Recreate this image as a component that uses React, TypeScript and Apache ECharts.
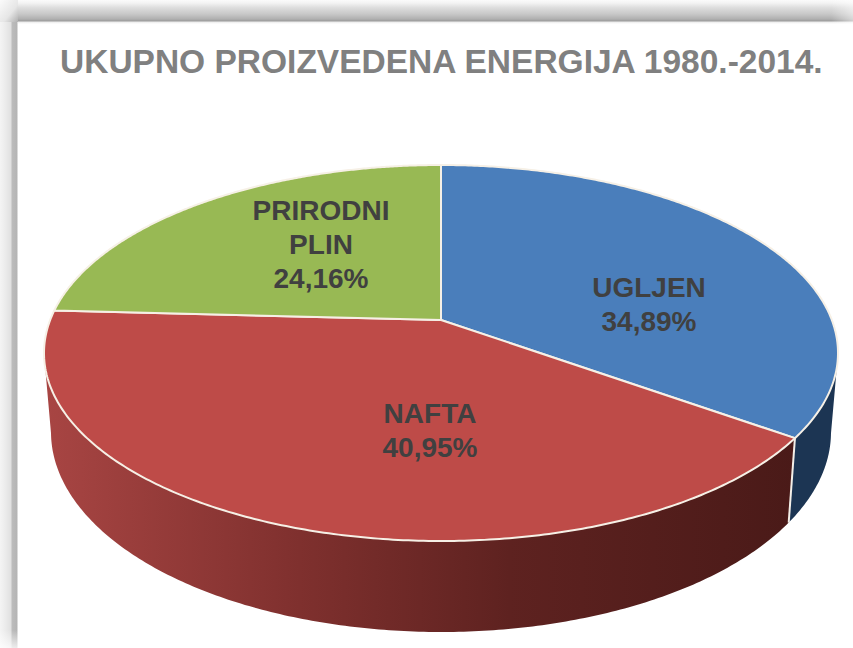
import React, { useEffect, useRef } from "react";
import * as echarts from "echarts";

const titleText = "UKUPNO PROIZVEDENA ENERGIJA 1980.-2014.";
const categories = ["UGLJEN", "NAFTA", "PRIRODNI\nPLIN"];
const shares = [34.89, 40.95, 24.16];

const topColors = ["#4a7ebb", "#be4b48", "#98b954"];
const sideFills = [
  ["#1c3553", "#1c3553"],
  ["#a84543", "#4a1a18"],
  ["#5f7530", "#5f7530"],
];

const W = 853;
const H = 648;
const TOP = { cx: 441, cy: 353, rx: 397, ry: 188 };
const BOTTOM = { cx: 441, cy: 432, rx: 390, ry: 200 };
const TILT = 0.1755; // apex offset caused by the perspective of the 3D pie
const LABEL_POS = [
  [649, 304.5],
  [430, 430],
  [321, 244.5],
];

// circle angle (clockwise from 12 o'clock) to normalised position on the projected rim
function rim(a: number) {
  const x = Math.sin(a);
  const y = Math.cos(a);
  const d = 1 + TILT * y;
  return [(x * Math.sqrt(1 - TILT * TILT)) / d, (y + TILT) / d];
}
const onEllipse = (e: typeof TOP, p: number[]) => [e.cx + e.rx * p[0], e.cy - e.ry * p[1]];

function sliceRows() {
  const total = shares.reduce((s, v) => s + v, 0);
  let run = 0;
  return shares.map((v, i) => {
    const start = (run / total) * Math.PI * 2;
    run += v;
    return [start, (run / total) * Math.PI * 2, v, i];
  });
}

function renderSlice(_params: any, api: any) {
  const start = api.value(0);
  const end = api.value(1);
  const idx = api.value(3);
  const steps = 240;
  const rimPts: number[][] = [];
  for (let i = 0; i <= steps; i++) rimPts.push(rim(start + ((end - start) * i) / steps));

  const front = rimPts.filter((p) => p[1] <= 0);
  const children: any[] = [];
  if (front.length > 1) {
    const upper = front.map((p) => onEllipse(TOP, p));
    const lower = front.map((p) => onEllipse(BOTTOM, p)).reverse();
    children.push({
      type: "polygon",
      shape: { points: upper.concat(lower) },
      style: {
        fill: new echarts.graphic.LinearGradient(0, 0, 1, 0, [
          { offset: 0, color: sideFills[idx][0] },
          { offset: 0.34, color: idx === 1 ? "#7f302e" : sideFills[idx][0] },
          { offset: 0.62, color: idx === 1 ? "#5e2220" : sideFills[idx][1] },
          { offset: 1, color: sideFills[idx][1] },
        ]),
      },
    });
  }
  const apex = [TOP.cx, TOP.cy - TOP.ry * TILT];
  children.push({
    type: "polygon",
    shape: { points: [apex].concat(rimPts.map((p) => onEllipse(TOP, p))) },
    style: { fill: topColors[idx], stroke: "#f6f0e6", lineWidth: 2, lineJoin: "round" },
  });
  return { type: "group", children };
}

// the pale seam on the outer wall where two slices meet
function renderSeam(_params: any, api: any) {
  const p = rim(api.value(0));
  if (p[1] > 0) return { type: "group", children: [] };
  const a = onEllipse(TOP, p);
  const b = onEllipse(BOTTOM, p);
  return {
    type: "line",
    shape: { x1: a[0], y1: a[1], x2: b[0], y2: b[1] },
    style: { stroke: "#f4efe8", lineWidth: 2 },
  };
}

function renderLabel(_params: any, api: any) {
  const idx = api.value(3);
  const pct = api.value(2).toFixed(2).replace(".", ",") + "%";
  const txt = categories[idx] + "\n" + pct;
  return {
    type: "text",
    style: {
      text: txt,
      x: LABEL_POS[idx][0],
      y: LABEL_POS[idx][1],
      align: "center",
      verticalAlign: "middle",
      fill: "#404040",
      font: 'bold 28px "Liberation Sans", Arial, sans-serif',
      lineHeight: 34,
    },
  };
}

const vGrad = (stops: [number, string][], len: number) =>
  new echarts.graphic.LinearGradient(
    0, 0, 0, 1,
    stops.map(([o, c]) => ({ offset: o / len, color: c }))
  );
const hGrad = (stops: [number, string][], len: number) =>
  new echarts.graphic.LinearGradient(
    0, 0, 1, 0,
    stops.map(([o, c]) => ({ offset: o / len, color: c }))
  );

export default function App() {
  const ref = useRef<HTMLDivElement>(null);
  useEffect(() => {
    const chart = echarts.init(ref.current!, undefined, { renderer: "svg" });
    const rows = sliceRows();
    chart.setOption({
      animation: false,
      backgroundColor: "#ffffff",
      title: {
        text: titleText,
        left: 60,
        top: 44,
        padding: 0,
        textStyle: {
          color: "#808080",
          fontFamily: '"Liberation Sans", Arial, sans-serif',
          fontWeight: "bold",
          fontSize: 33.5,
        },
      },
      graphic: [
        {
          type: "rect",
          z: 0,
          shape: { x: 14, y: 0, width: W - 14, height: 24 },
          style: {
            fill: vGrad(
              [
                [0, "#fbfbfb"],
                [3, "#f3f3f3"],
                [8, "#dcdcdc"],
                [14, "#c8c8c8"],
                [19, "#b0b0b0"],
                [21, "#9c9c9c"],
                [22, "#ececec"],
                [24, "#ffffff"],
              ],
              24
            ),
          },
        },
        {
          type: "rect",
          z: 1,
          shape: { x: W - 22, y: 0, width: 22, height: 24 },
          style: {
            fill: new echarts.graphic.LinearGradient(0, 0, 1, 0, [
              { offset: 0, color: "rgba(255,255,255,0)" },
              { offset: 1, color: "rgba(255,255,255,0.5)" },
            ]),
          },
        },
        {
          type: "rect",
          z: 0,
          shape: { x: 0, y: 20, width: 18, height: H - 20 },
          style: {
            fill: hGrad(
              [
                [0, "#f4f4f4"],
                [5, "#ececec"],
                [11, "#e0e0e0"],
                [12, "#bcbcbc"],
                [17, "#b4b4b4"],
                [18, "#ffffff"],
              ],
              18
            ),
          },
        },
        {
          type: "rect",
          z: 1,
          shape: { x: 0, y: 630, width: 18, height: 18 },
          style: {
            fill: vGrad(
              [
                [0, "rgba(255,255,255,0)"],
                [18, "rgba(255,255,255,0.75)"],
              ],
              18
            ),
          },
        },
        {
          type: "rect",
          z: 0,
          shape: { x: 0, y: 0, width: 18, height: 22 },
          style: {
            fill: new echarts.graphic.LinearGradient(0, 0, 1, 1, [
              { offset: 0, color: "#fbfbfb" },
              { offset: 0.6, color: "#e6e6e6" },
              { offset: 1, color: "#b0b0b0" },
            ]),
          },
        },
      ],
      series: [
        {
          type: "custom",
          coordinateSystem: "none",
          silent: true,
          z: 2,
          renderItem: renderSlice,
          data: rows,
        },
        {
          type: "custom",
          coordinateSystem: "none",
          silent: true,
          z: 3,
          renderItem: renderSeam,
          data: rows,
        },
        {
          type: "custom",
          coordinateSystem: "none",
          silent: true,
          z: 4,
          renderItem: renderLabel,
          data: rows,
        },
      ],
    });
    return () => chart.dispose();
  }, []);
  return (
    <div
      ref={ref}
      style={{ position: "absolute", left: 0, top: 0, width: W, height: H }}
    />
  );
}
